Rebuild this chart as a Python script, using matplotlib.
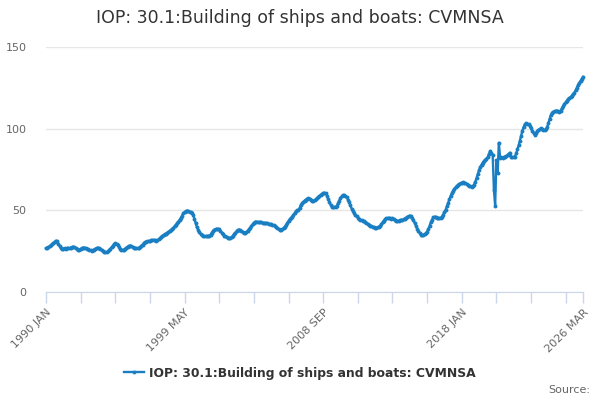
import matplotlib
matplotlib.use("Agg")
import matplotlib.pyplot as plt

# monthly index values, 1990 JAN .. 2026 MAR
vals_1990s = [
    26.8, 27.2, 27.5, 28.1, 28.6, 29.3, 30.0, 30.8, 31.4, 31.0, 29.6, 28.0,  # 1990
    26.9, 26.3, 26.5, 26.8, 26.6, 26.9, 27.0, 26.7, 27.2, 27.5, 27.7, 27.4,  # 1991
    26.8, 26.1, 25.7, 26.0, 26.4, 26.9, 27.1, 27.2, 26.9, 26.5, 26.2, 25.8,  # 1992
    25.6, 25.3, 25.5, 26.0, 26.6, 27.0, 27.1, 26.9, 26.4, 25.8, 25.1, 24.6,  # 1993
    24.4, 24.3, 24.9, 25.6, 26.5, 27.4, 28.3, 29.2, 29.8, 29.5, 28.6, 27.5,  # 1994
    26.6, 26.0, 25.7, 25.9, 26.5, 27.2, 27.8, 28.3, 28.4, 28.1, 27.6, 27.2,  # 1995
    26.9, 26.8, 26.7, 26.8, 27.4, 28.2, 29.0, 29.9, 30.6, 30.8, 31.0, 31.2,  # 1996
    31.4, 31.6, 31.8, 31.9, 31.7, 31.4, 31.6, 32.2, 32.9, 33.6, 34.3, 34.9,  # 1997
    35.4, 35.8, 36.3, 36.9, 37.5, 38.0, 38.7, 39.4, 40.3, 41.2, 42.2, 43.1,  # 1998
    44.2, 45.4, 46.8, 48.2, 48.9, 49.5, 49.8, 49.6, 49.2, 48.7, 48.2, 47.0,  # 1999
]
vals_2000s = [
    44.8, 42.0, 39.5, 38.0, 36.6, 35.4, 34.6, 34.3, 34.0, 34.1, 34.3, 34.2,  # 2000
    34.3, 35.2, 36.3, 37.4, 38.2, 38.5, 38.7, 38.6, 38.3, 37.5, 36.4, 35.3,  # 2001
    34.5, 34.0, 33.5, 33.1, 32.9, 33.0, 33.6, 34.4, 35.4, 36.4, 37.3, 38.0,  # 2002
    38.2, 37.9, 37.3, 36.8, 36.4, 36.3, 36.7, 37.5, 38.4, 39.3, 40.4, 41.5,  # 2003
    42.4, 43.0, 43.1, 42.9, 42.8, 42.6, 42.6, 42.4, 42.3, 42.2, 42.1, 42.0,  # 2004
    41.8, 41.6, 41.4, 41.1, 40.8, 40.4, 39.8, 39.1, 38.5, 38.0, 38.0, 38.4,  # 2005
    39.2, 40.0, 40.9, 42.2, 43.5, 44.6, 45.3, 46.2, 47.3, 48.4, 49.3, 50.0,  # 2006
    50.2, 51.5, 53.4, 54.3, 55.2, 56.0, 56.6, 57.1, 57.4, 57.2, 56.6, 56.0,  # 2007
    55.9, 56.2, 56.7, 57.4, 58.0, 58.8, 59.5, 60.1, 60.6, 60.8, 60.4, 59.0,  # 2008
    57.2, 55.3, 53.5, 52.2, 51.9, 51.8, 52.0, 52.8, 54.2, 56.0, 57.6, 58.6,  # 2009
]
vals_2010s = [
    59.4, 59.2, 58.8, 57.9, 56.6, 54.9, 53.0, 51.1, 49.5, 48.2, 47.2, 46.3,  # 2010
    45.5, 44.8, 44.1, 43.8, 43.5, 43.2, 42.9, 42.4, 41.8, 41.2, 40.7, 40.2,  # 2011
    39.8, 39.5, 39.3, 39.4, 39.6, 39.8, 40.5, 41.6, 42.7, 43.7, 44.5, 45.1,  # 2012
    45.3, 45.4, 45.2, 45.0, 45.1, 44.6, 44.0, 43.6, 43.5, 43.6, 43.9, 44.1,  # 2013
    44.2, 44.5, 45.0, 45.5, 46.0, 46.5, 46.7, 46.3, 45.3, 43.9, 42.3, 40.6,  # 2014
    38.8, 37.3, 36.1, 35.2, 34.9, 35.0, 35.4, 36.0, 36.9, 38.5, 40.5, 42.6,  # 2015
    44.3, 45.7, 46.1, 46.0, 45.6, 45.3, 45.1, 45.3, 46.2, 47.4, 48.9, 50.4,  # 2016
    52.4, 54.6, 56.8, 58.8, 60.5, 62.0, 63.2, 64.1, 64.9, 65.6, 66.2, 66.6,  # 2017
    66.9, 67.1, 66.9, 66.5, 66.0, 65.5, 65.0, 64.6, 64.5, 64.8, 65.8, 67.6,  # 2018
    70.0, 72.3, 74.6, 76.6, 78.0, 79.2, 80.2, 81.0, 81.7, 82.6, 84.5, 86.4,  # 2019
]
vals_2020s = [
    85.2, 83.9, 62.5, 52.8, 80.8, 72.7, 91.4, 81.9, 82.5, 82.0, 82.6, 82.9,  # 2020
    83.4, 83.9, 84.6, 85.3, 82.6, 82.4, 82.7, 82.9, 84.8, 87.3, 89.8, 92.6,  # 2021
    95.6, 98.7, 101.0, 102.6, 103.3, 103.1, 102.6, 101.5, 100.4, 98.8, 97.2, 96.2,  # 2022
    97.3, 98.5, 99.2, 99.8, 100.2, 99.9, 99.4, 99.2, 99.5, 101.0, 103.3, 106.0,  # 2023
    108.3, 109.8, 110.4, 110.8, 111.0, 110.9, 110.6, 110.4, 111.1, 112.4, 113.8, 115.2,  # 2024
    116.2, 117.2, 118.0, 118.8, 119.4, 120.2, 121.1, 122.1, 123.4, 125.0, 126.7, 128.0,  # 2025
    129.4, 130.6, 131.7,  # 2026
]
start_year = 1990
months = ["JAN", "FEB", "MAR", "APR", "MAY", "JUN",
          "JUL", "AUG", "SEP", "OCT", "NOV", "DEC"]
series_name = "IOP: 30.1:Building of ships and boats: CVMNSA"
y_ticks = [0, 50, 100, 150]

values = vals_1990s + vals_2000s + vals_2010s + vals_2020s
n = len(values)
periods = [f"{start_year + i // 12} {months[i % 12]}" for i in range(n)]
xs = list(range(n))

BLUE = "#1a7fc2"
AXIS = "#ccd6eb"

fig = plt.figure(figsize=(6, 4), dpi=100)
ax = fig.add_axes([46 / 600, 1 - 292 / 400, 537 / 600, 245 / 400])

ax.plot(xs, values, color=BLUE, lw=1.7, marker="o", ms=2.8, mew=0,
        clip_on=False, zorder=3, label=series_name)

ax.set_xlim(0, n - 1)
ax.set_ylim(0, 150)
ax.set_yticks(y_ticks)
ax.grid(axis="y", color="#e6e6e6", lw=1)
ax.set_axisbelow(True)

# tick every 28 months, label every 4th tick plus the last month
minor = list(range(0, n, 28)) + [n - 1]
ax.set_xticks(minor)
lab_at = set(range(0, n, 112)) | {n - 1}
ax.set_xticklabels([periods[i] if i in lab_at else "" for i in minor],
                   rotation=45, ha="right", va="top", rotation_mode="anchor")

for s in ("top", "right", "left"):
    ax.spines[s].set_visible(False)
ax.spines["bottom"].set_color(AXIS)
ax.tick_params(axis="x", colors=AXIS, length=8, width=1, labelcolor="#666666",
               labelsize=8, pad=3)
ax.tick_params(axis="y", length=0, labelcolor="#666666", labelsize=8, pad=14)

fig.text(0.5, 1 - 18 / 400, series_name, ha="center", va="center",
         fontsize=12.5, color="#333333")

fig.legend(loc="center", bbox_to_anchor=(0.5, 1 - 373 / 400), frameon=False,
           prop={"weight": "bold", "size": 8.9}, labelcolor="#333333",
           handlelength=1.6, handletextpad=0.4)

fig.text(590 / 600, 1 - 390 / 400, "Source:", ha="right", va="center",
         fontsize=8, color="#666666")

fig.savefig("out.png", dpi=100)
